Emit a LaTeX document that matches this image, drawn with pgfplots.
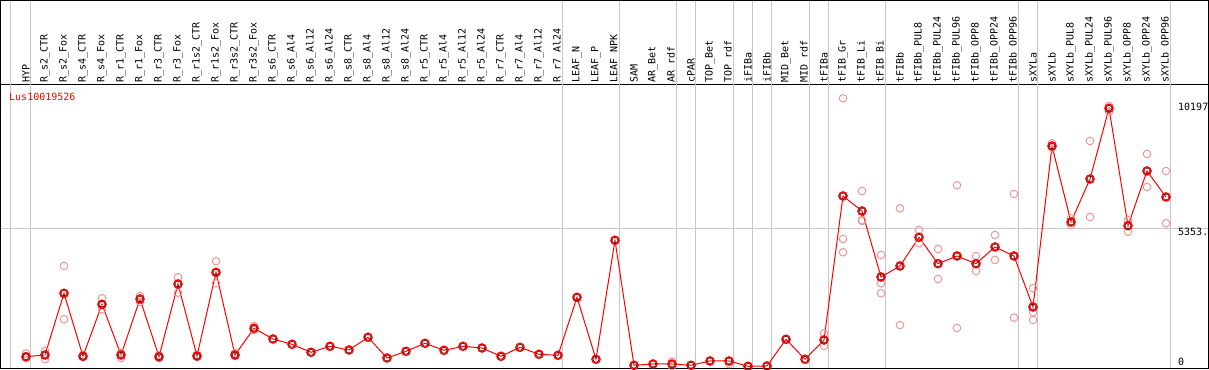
\documentclass[border=0pt]{standalone}
\usepackage{fontspec}
\setmonofont{DejaVu Sans Mono}
\usepackage{pgfplots}
\pgfplotsset{compat=1.18}
\usepackage{pgfplotstable}
\definecolor{gridgray}{RGB}{200,200,200}
\definecolor{reppink}{RGB}{236,150,150}

\pgfplotstableread{
i v
1 372
2 438
3 2829
4 388
5 2403
6 438
7 2609
8 372
9 3190
10 399
11 3643
12 438
13 1473
14 1058
15 853
16 543
17 775
18 632
19 1124
20 322
21 581
22 891
23 620
24 775
25 709
26 388
27 736
28 465
29 426
30 2674
31 271
32 4884
33 39
34 89
35 89
36 39
37 205
38 205
39 0
40 12
41 1047
42 271
43 1019
44 6601
45 6019
46 3461
47 3888
48 5000
49 3977
50 4275
51 3977
52 4624
53 4275
54 2298
55 8539
56 5593
57 7260
58 10000
59 5450
60 7570
61 6562
}\means

\pgfplotstableread{
i v
1 496
1 322
2 593
2 271
3 3888
3 1822
4 419
4 360
5 2636
5 2209
6 516
6 322
7 2725
7 2504
8 419
8 322
9 3450
9 2853
10 438
10 360
11 4070
11 3217
12 516
12 399
13 1562
13 1407
35 194
35 0
38 89
43 1279
43 787
44 10388
44 4934
44 4419
45 6795
45 5671
45 5632
46 4314
46 3217
46 2829
47 6124
47 1601
48 5283
48 4767
49 4547
49 3384
50 7016
50 1485
51 4275
51 3694
52 5089
52 4120
53 6678
53 1884
54 3023
54 2093
54 1795
55 8643
55 8481
56 5736
56 5477
57 8733
57 5787
58 10089
58 9868
59 5671
59 5217
60 8229
60 6950
61 7570
61 5543
}\reps

\newcommand{\pixfont}{\ttfamily\fontsize{10bp}{12bp}\selectfont}

\begin{document}
\begin{tikzpicture}
\begin{axis}[
  scale only axis, width=1207bp, height=284bp,
  xmin=-0.31579, xmax=63.2105, ymin=-104.65, ymax=10903.2,
  clip=false,
  scaled y ticks=false,
  axis line style={black, line width=1bp},
  xtick={1,...,61},
  xticklabels={HYP,R\_s2\_CTR,R\_s2\_Fox,R\_s4\_CTR,R\_s4\_Fox,R\_r1\_CTR,R\_r1\_Fox,R\_r3\_CTR,R\_r3\_Fox,R\_r1s2\_CTR,R\_r1s2\_Fox,R\_r3s2\_CTR,R\_r3s2\_Fox,R\_s6\_CTR,R\_s6\_Al4,R\_s6\_Al12,R\_s6\_Al24,R\_s8\_CTR,R\_s8\_Al4,R\_s8\_Al12,R\_s8\_Al24,R\_r5\_CTR,R\_r5\_Al4,R\_r5\_Al12,R\_r5\_Al24,R\_r7\_CTR,R\_r7\_Al4,R\_r7\_Al12,R\_r7\_Al24,LEAF\_N,LEAF\_P,LEAF\_NPK,SAM,AR\_Bet,AR\_rdf,cPAR,TOP\_Bet,TOP\_rdf,iFIBa,iFIBb,MID\_Bet,MID\_rdf,tFIBa,tFIB\_Gr,tFIB\_Li,tFIB\_Bi,tFIBb,tFIBb\_PUL8,tFIBb\_PUL24,tFIBb\_PUL96,tFIBb\_OPP8,tFIBb\_OPP24,tFIBb\_OPP96,sXYLa,sXYLb,sXYLb\_PUL8,sXYLb\_PUL24,sXYLb\_PUL96,sXYLb\_OPP8,sXYLb\_OPP24,sXYLb\_OPP96},
  xticklabel pos=upper,
  xticklabel style={rotate=90, anchor=west, inner sep=0pt, inner xsep=2bp, font=\pixfont},
  major tick length=0pt,
  ytick={5353}, yticklabels={},
  ymajorgrids, grid style={gridgray, line width=1bp},
]
\pgfplotsinvokeforeach{0.2,1.25,29.25,32.23,35.25,36.25,38.23,39.25,40.25,42.23,43.23,46.25,53.26,54.25,61.21}{
  \draw[gridgray, line width=1bp] (axis cs:#1,-104.65) -- (axis cs:#1,14178);
}
\draw[black, line width=1bp] (axis cs:-0.31579,-104.65) rectangle (axis cs:63.2105,14178);

\addplot[only marks, mark=o, mark size=3.8bp, mark options={reppink, line width=1bp}] table[x=i,y=v]{\reps};
\addplot[red, line width=1bp, mark=o, mark size=4.1bp, mark options={red, line width=1.4bp}] table[x=i,y=v]{\means};
\addplot[only marks, mark=o, mark size=2.9bp, mark options={black!80!red, line width=0.5bp}] table[x=i,y=v]{\means};

\node[anchor=west, inner sep=0pt, text=red, font=\pixfont] at (axis cs:0.105,10438) {Lus10019526};
\node[anchor=west, inner sep=0pt, font=\pixfont] at (axis cs:61.63,10050) {10197};
\node[anchor=west, inner sep=0pt, font=\pixfont] at (axis cs:61.63,5205) {5353.};
\node[anchor=west, inner sep=0pt, font=\pixfont] at (axis cs:61.63,167) {0};

\coordinate (BL) at (axis cs:-0.36842,-143.4);
\coordinate (TR) at (axis cs:63.2632,14197.7);
\end{axis}
\pgfresetboundingbox
\path (BL) rectangle (TR);
\end{tikzpicture}
\end{document}
